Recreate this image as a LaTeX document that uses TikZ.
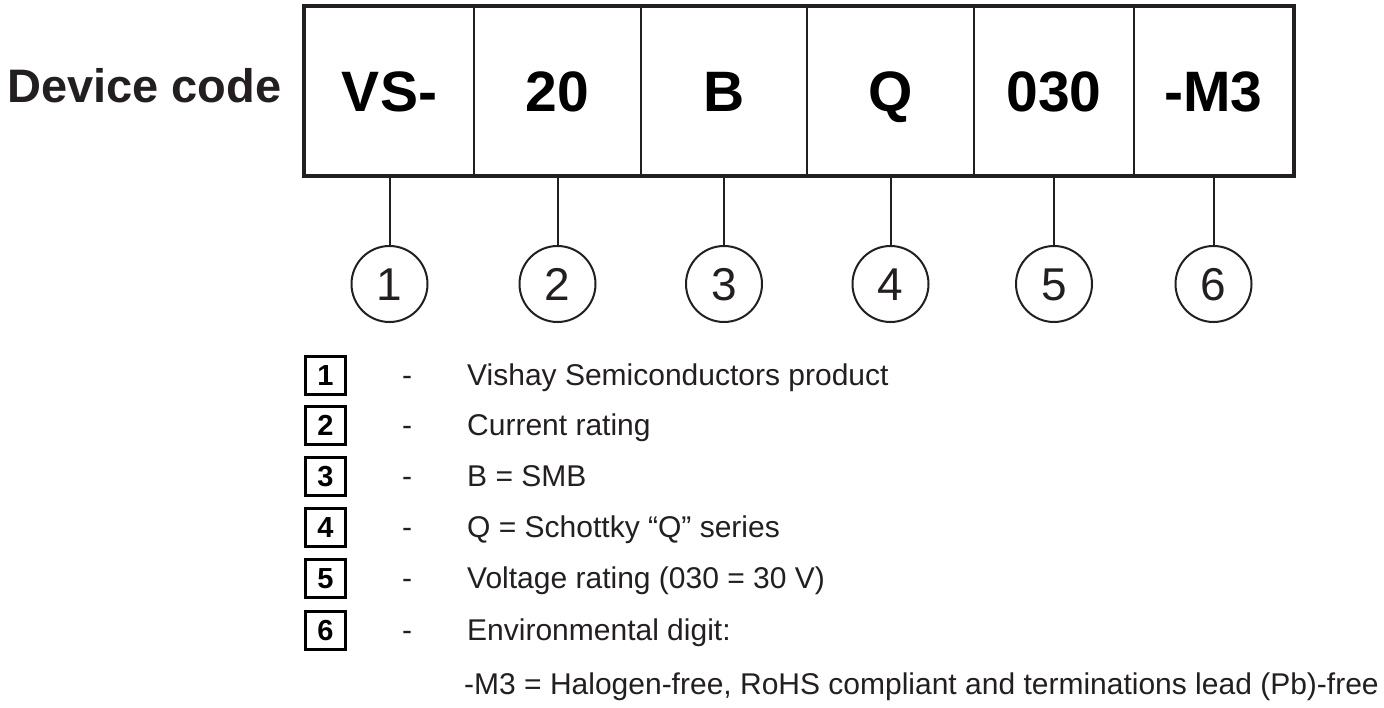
\documentclass[tikz,border=0pt]{standalone}
\usepackage{fontspec}
\setmainfont{Liberation Sans}
\definecolor{ink}{HTML}{231F20}
\begin{document}
\begin{tikzpicture}[x=1pt,y=-1pt,
  cell/.style={draw=ink,line width=2pt,minimum width=#1,minimum height=168pt,inner sep=0pt,anchor=north west,font=\fontsize{57}{57}\selectfont\bfseries,text=black,text height=40.8pt,text depth=0pt},
  numcirc/.style={draw=ink,line width=2pt,circle,minimum size=76pt,inner sep=0pt,font=\fontsize{46}{46}\selectfont,text=ink,text height=32.9pt,text depth=0pt},
  conn/.style={draw=ink,line width=2pt},
  keybox/.style={draw=black,line width=3pt,minimum width=40pt,minimum height=38pt,inner sep=0pt,font=\fontsize{29}{29}\selectfont\bfseries,text height=20.8pt,text depth=0pt},
  dashtxt/.style={anchor=base,font=\fontsize{30}{30}\selectfont,text=ink,inner sep=0pt},
  desc/.style={anchor=base west,font=\fontsize{30}{30}\selectfont,text=ink,inner sep=0pt}
]
\useasboundingbox (0,0) rectangle (1384,707);
\node[anchor=west,font=\fontsize{47}{47}\selectfont\bfseries,text=ink,inner sep=0pt,text height=33.7pt,text depth=0pt] (dc) at (7,86) {Device code};
% code cells
\node[cell=169pt] (c1) at (304,6) {VS-};
\node[cell=167pt] (c2) at (473,6) {20};
\node[cell=166pt] (c3) at (640,6) {B};
\node[cell=167pt] (c4) at (806,6) {Q};
\node[cell=160pt] (c5) at (973,6) {030};
\node[cell=159pt] (c6) at (1133,6) {-M3};
\draw[draw=ink,line width=4.5pt] (c1.north west) rectangle (c6.south east);
% circles
\foreach \i in {1,...,6}{
  \path (c\i.south) ++(0,108) node[numcirc] (n\i) {\i};
  \draw[conn] (c\i.south) -- (n\i.north);
}
% legend
\foreach \i/\y in {1/375,2/425,3/476,4/527,5/578,6/630}{
  \node[keybox] (b\i) at (325.5,\y) {\i};
  \node[dashtxt] (d\i) at (407,\y+10.5) {-};
}
\node[desc] (t1) at (467,385.5) {Vishay Semiconductors product};
\node[desc] (t2) at (467,435.5) {Current rating};
\node[desc] (t3) at (467,486.5) {B = SMB};
\node[desc] (t4) at (467,537.5) {Q = Schottky “Q” series};
\node[desc] (t5) at (467,588.5) {Voltage rating (030 = 30 V)};
\node[desc] (t6) at (467,640.5) {Environmental digit:};
\node[desc] (t7) at (464,694.5) {-M3 = Halogen-free, RoHS compliant and terminations lead (Pb)-free};
\end{tikzpicture}
\end{document}
